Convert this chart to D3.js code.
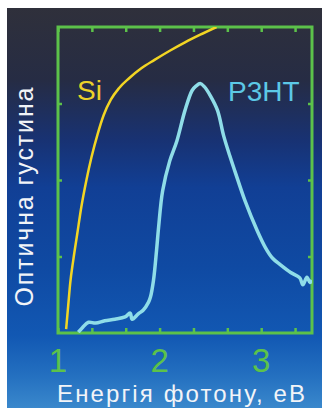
<!DOCTYPE html>
<html>
<head>
<meta charset="utf-8">
<script src="https://cdn.jsdelivr.net/npm/d3@7"></script>
<style>
  html, body { margin: 0; padding: 0; background: #fff; }
  svg { display: block; }
</style>
</head>
<body>
<div id="chart"></div>
<script>
// photon energy (eV) and optical density
const siEnergy = [1.08, 1.10, 1.12, 1.15, 1.19, 1.23, 1.28, 1.33, 1.39, 1.45, 1.52, 1.60, 1.70, 1.82, 1.95, 2.10, 2.25, 2.40, 2.56];
const siDensity = [0.05, 0.35, 0.65, 0.95, 1.3, 1.65, 2.0, 2.3, 2.6, 2.85, 3.05, 3.2, 3.33, 3.46, 3.57, 3.69, 3.8, 3.9, 4.0];

const p3htEnergy = [1.20, 1.24, 1.30, 1.37, 1.46, 1.56, 1.66, 1.71, 1.73, 1.79, 1.84, 1.89, 1.91, 1.94, 1.97, 1.99, 2.03, 2.10, 2.17, 2.25, 2.32, 2.36, 2.40, 2.44, 2.50, 2.57, 2.63, 2.69, 2.74, 2.84, 2.96, 3.04, 3.11, 3.19, 3.29, 3.38, 3.41, 3.45, 3.48, 3.50];
const p3htDensity = [0.01, 0.07, 0.14, 0.13, 0.16, 0.18, 0.21, 0.26, 0.18, 0.25, 0.30, 0.40, 0.47, 0.69, 1.08, 1.38, 1.86, 2.25, 2.51, 2.91, 3.17, 3.23, 3.26, 3.22, 3.10, 2.91, 2.58, 2.32, 2.12, 1.73, 1.34, 1.12, 0.98, 0.89, 0.79, 0.72, 0.63, 0.73, 0.66, 0.69];

const xTicks = [1, 2, 3];
const yTicks = [1, 2, 3];

const width = 322, height = 408;
const margin = { top: 27, right: 10, bottom: 75, left: 58 };
const green = "#5cc24a";

const svg = d3.select("#chart").append("svg")
  .attr("width", width)
  .attr("height", height);

// background gradient (photo has a white strip on the left/top)
const grad = svg.append("defs").append("linearGradient")
  .attr("id", "bg").attr("x1", 0).attr("y1", 0).attr("x2", 0).attr("y2", 1);
[[0, "#2f303b"], [0.18, "#262c44"], [0.33, "#183273"], [0.45, "#113f95"], [0.65, "#0f4aa3"], [0.82, "#1258b3"], [0.92, "#2470c0"], [1, "#3a88cc"]]
  .forEach(([o, c]) => grad.append("stop").attr("offset", o).attr("stop-color", c));

svg.append("rect")
  .attr("x", 7).attr("y", 8)
  .attr("width", width - 7).attr("height", height - 8)
  .attr("fill", "url(#bg)");

const x = d3.scaleLinear().domain([1, 3.5]).range([margin.left, width - margin.right]);
const y = d3.scaleLinear().domain([0, 4]).range([height - margin.bottom, margin.top]);

// minor ticks every 1/3 eV
const minorX = d3.range(1, 3.5, 1 / 3);

const tickStyle = g => {
  g.select(".domain").remove();
  g.selectAll(".tick line").attr("stroke", green).attr("stroke-width", 2.5);
};

svg.append("g")
  .attr("transform", `translate(0,${y(0)})`)
  .call(d3.axisBottom(x).tickValues(minorX).tickSize(-5).tickFormat(""))
  .call(tickStyle);
svg.append("g")
  .attr("transform", `translate(0,${y(4)})`)
  .call(d3.axisTop(x).tickValues(minorX).tickSize(-5).tickFormat(""))
  .call(tickStyle);
svg.append("g")
  .attr("transform", `translate(${x(1)},0)`)
  .call(d3.axisLeft(y).tickValues(yTicks).tickSize(-4).tickFormat(""))
  .call(tickStyle);
svg.append("g")
  .attr("transform", `translate(${x(3.5)},0)`)
  .call(d3.axisRight(y).tickValues(yTicks).tickSize(-4).tickFormat(""))
  .call(tickStyle);

// frame
svg.append("rect")
  .attr("x", x(1)).attr("y", y(4))
  .attr("width", x(3.5) - x(1)).attr("height", y(0) - y(4))
  .attr("fill", "none")
  .attr("stroke", green)
  .attr("stroke-width", 3);

// tick labels
svg.append("g").selectAll("text")
  .data(xTicks)
  .join("text")
  .attr("x", d => x(d))
  .attr("y", 372)
  .attr("text-anchor", "middle")
  .attr("fill", green)
  .style("font", "33px 'Liberation Sans', Arial, sans-serif")
  .text(d => d);

svg.append("clipPath").attr("id", "plot").append("rect")
  .attr("x", x(1)).attr("y", y(4))
  .attr("width", x(3.5) - x(1)).attr("height", y(0) - y(4));

const siLine = d3.line()
  .x(d => x(d[0]))
  .y(d => y(d[1]))
  .curve(d3.curveMonotoneX);

const p3htLine = d3.line()
  .x(d => x(d[0]))
  .y(d => y(d[1]))
  .curve(d3.curveCatmullRom.alpha(0.5));

svg.append("path")
  .datum(d3.zip(siEnergy, siDensity))
  .attr("clip-path", "url(#plot)")
  .attr("fill", "none")
  .attr("stroke", "#f2d523")
  .attr("stroke-width", 2.5)
  .attr("d", siLine);

svg.append("path")
  .datum(d3.zip(p3htEnergy, p3htDensity))
  .attr("clip-path", "url(#plot)")
  .attr("fill", "none")
  .attr("stroke", "#8fdde8")
  .attr("stroke-width", 3.5)
  .attr("stroke-linejoin", "round")
  .attr("d", p3htLine);

// series labels
svg.append("text")
  .attr("x", 77).attr("y", 100)
  .attr("fill", "#ecd22a")
  .style("font", "28px 'Liberation Sans', Arial, sans-serif")
  .text("Si");

svg.append("text")
  .attr("x", 228).attr("y", 101)
  .attr("fill", "#5cc8e6")
  .style("font", "28px 'Liberation Sans', Arial, sans-serif")
  .text("P3HT");

// axis titles
svg.append("text")
  .attr("x", 181).attr("y", 402)
  .attr("text-anchor", "middle")
  .attr("fill", "#f2f4f8")
  .style("font", "24px 'Liberation Sans', Arial, sans-serif")
  .attr("textLength", 248)
  .text("Енергія фотону, еВ");

svg.append("text")
  .attr("transform", "translate(33,197) rotate(-90)")
  .attr("text-anchor", "middle")
  .attr("fill", "#f2f4f8")
  .style("font", "25px 'Liberation Sans', Arial, sans-serif")
  .attr("textLength", 219)
  .text("Оптична густина");
</script>
</body>
</html>
